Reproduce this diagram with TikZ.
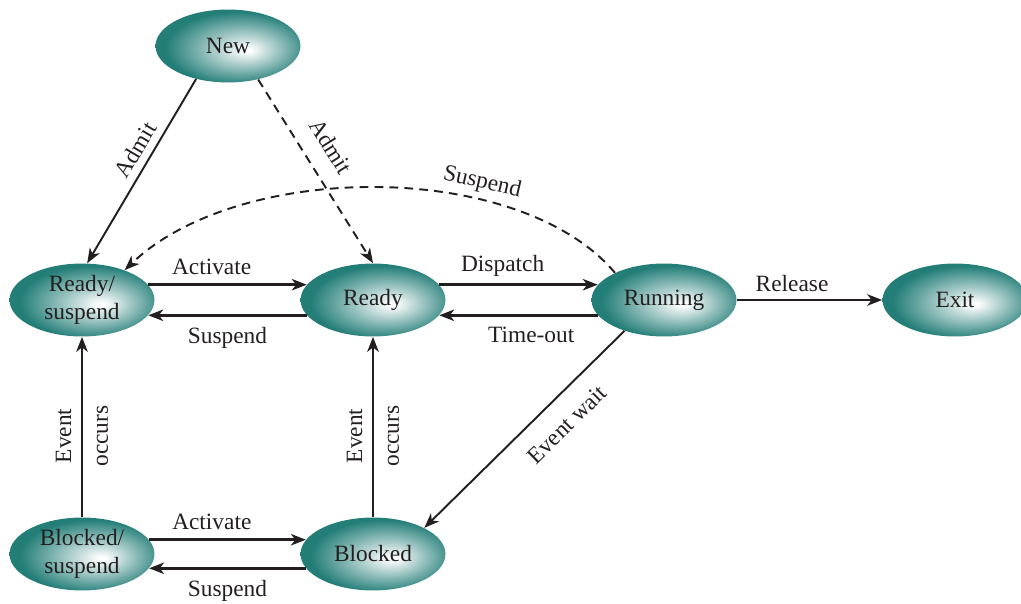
\documentclass[tikz,border=0pt]{standalone}
\usepackage{fontspec}
\setmainfont{Liberation Serif}
\usetikzlibrary{arrows.meta,shapes.geometric}

\definecolor{procteal}{RGB}{36,126,120}
\definecolor{ink}{RGB}{35,31,32}
\pgfdeclareradialshading{stateglow}{\pgfpoint{7bp}{-3bp}}%
  {color(0bp)=(white); color(1bp)=(white); color(25bp)=(procteal); color(50bp)=(procteal)}

\begin{document}
\begin{tikzpicture}[
  x=0.02cm, y=-0.02cm,
  font=\fontsize{13.3}{16}\selectfont,
  state/.style={ellipse, shading=stateglow, text=ink, align=center,
    minimum width=82.5pt, minimum height=41.5pt, inner sep=0pt},
  arrow/.style={-{Stealth[length=8.5pt, width=6.5pt, inset=2.5pt]}, line width=1.6pt, draw=ink},
  slant/.style={arrow, line width=1.1pt},
  defer/.style={slant, dash pattern=on 5pt off 3.5pt},
  lbl/.style={text=ink, align=center, inner sep=3pt}
]
\useasboundingbox (0,0) rectangle (1021,604);

\node[state] (new) at (228,46) {New};
\node[state] (rsu) at (82,300) {Ready/\\suspend};
\node[state] (rdy) at (373,300) {Ready};
\node[state] (run) at (664,300) {Running};
\node[state] (exit) at (955,300) {Exit};
\node[state] (bsu) at (82,554) {Blocked/\\suspend};
\node[state] (blk) at (373,554) {Blocked};

% admission
\draw[slant] (new.226) -- node[lbl, sloped, above=1pt, pos=0.43] (admitA) {Admit} (rsu.82);
\draw[defer] (new.312) -- node[lbl, sloped, above=7pt, pos=0.44] (admitB) {Admit} (rdy.north);

% suspend from running
\draw[defer] (run.151) .. controls (520,160) and (240,160) ..
  node[lbl, sloped, above, pos=0.32] (suspC) {Suspend} (rsu.35);

% top row
\draw[arrow] (rsu.13) -- node[lbl, above=2pt, pos=0.4] (actA) {Activate} (rdy.167);
\draw[arrow] (rdy.193) -- node[lbl, below=3pt] (suspA) {Suspend} (rsu.347);
\draw[arrow] (rdy.13) -- node[lbl, above=1pt, pos=0.4] (disp) {Dispatch} (run.167);
\draw[arrow] (run.193) -- node[lbl, below=3pt, pos=0.42] (tout) {Time-out} (rdy.347);
\draw[arrow] (run.east) -- node[lbl, above=1pt, pos=0.38] (rel) {Release} (exit.west);

% blocking
\draw[slant] (run.218) -- node[lbl, sloped, below=7pt, pos=0.38] (evwait) {Event wait} (blk.27);

% bottom row
\draw[arrow] (bsu.12) -- node[lbl, above=2pt, pos=0.4] (actB) {Activate} (blk.168);
\draw[arrow] (blk.192) -- node[lbl, below=3pt] (suspB) {Suspend} (bsu.348);

% events
\draw[arrow] (bsu.north) -- node[lbl, rotate=90, pos=0.45] (evA) {Event\\[5pt]occurs} (rsu.south);
\draw[arrow] (blk.north) -- node[lbl, rotate=90, pos=0.45] (evB) {Event\\[5pt]occurs} (rdy.south);

\end{tikzpicture}
\end{document}
